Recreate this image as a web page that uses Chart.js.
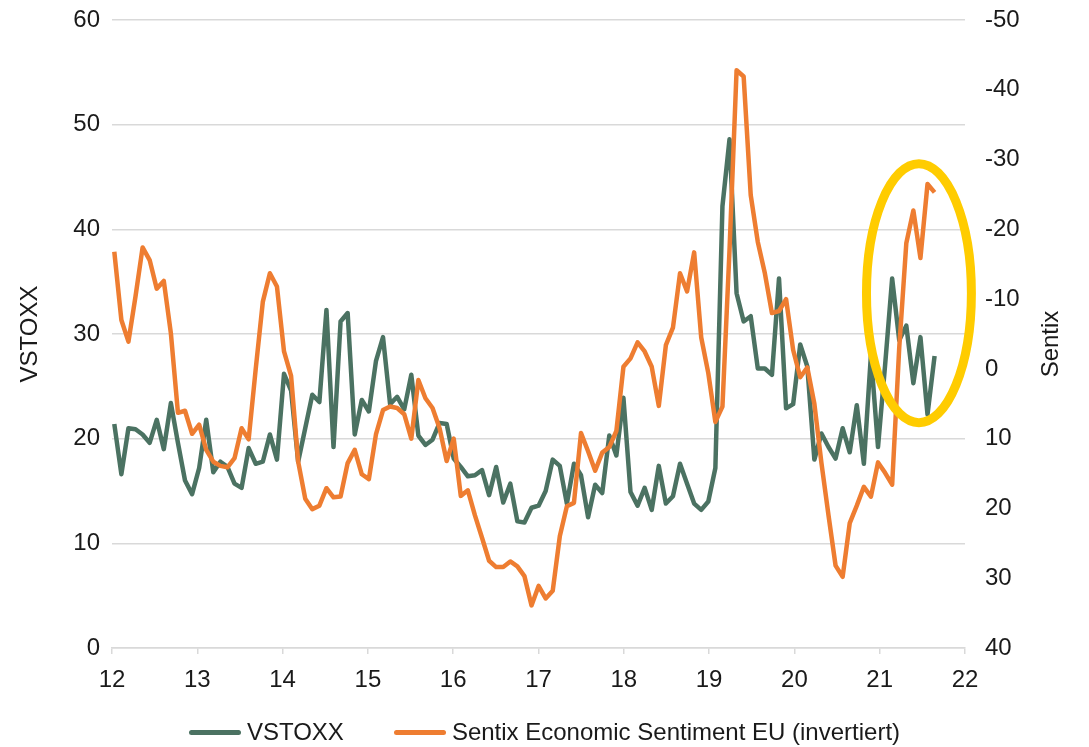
<!DOCTYPE html>
<html>
<head>
<meta charset="utf-8">
<script src="https://cdn.jsdelivr.net/npm/chart.js@4.4.1/dist/chart.umd.min.js"></script>
<style>
  html, body { margin: 0; padding: 0; background: #fff; }
  #wrap { position: relative; width: 1089px; height: 747px; }
  #legend {
    position: absolute; left: 0; right: 0; top: 718px;
    display: flex; justify-content: center; align-items: center;
    font: 24px "Liberation Sans", Arial, sans-serif; color: #1a1a1a;
  }
  .item { display: flex; align-items: center; margin: 0 25px; }
  .swatch { width: 52px; height: 5px; border-radius: 3px; margin-right: 6px; }
</style>
</head>
<body>
<div id="wrap">
  <canvas id="line-chart"></canvas>
  <div id="legend"></div>
</div>
<script>
// monthly points, first one just after the "12" tick
const X_START = 12.027;
const X_STEP = 0.0829;

const VSTOXX = [
  21.4, 16.6, 21.0, 20.9, 20.4, 19.6, 21.8, 19.0, 23.4, 19.6, 16.0, 14.7,
  17.2, 21.8, 16.8, 17.8, 17.3, 15.7, 15.3, 19.1, 17.6, 17.8, 20.4, 18.0,
  26.2, 24.6, 17.8, 21.0, 24.2, 23.5, 32.3, 19.2, 31.2, 32.0, 20.4, 23.7,
  22.6, 27.4, 29.7, 23.3, 24.0, 22.8, 26.1, 20.3, 19.4, 19.9, 21.5, 21.4,
  18.1, 17.3, 16.4, 16.5, 17.0, 14.6, 17.3, 13.9, 15.7, 12.1, 12.0, 13.4,
  13.6, 15.0, 18.0, 17.4, 13.8, 17.6, 16.5, 12.5, 15.6, 14.8, 20.3, 18.4,
  23.9, 14.9, 13.6, 15.3, 13.2, 17.4, 13.8, 14.5, 17.6, 15.7, 13.8, 13.2,
  14.0, 17.2, 42.2, 48.6, 33.9, 31.2, 31.7, 26.7, 26.7, 26.1, 35.3, 22.9,
  23.3, 29.0, 26.9, 18.0, 20.5, 19.2, 18.1, 21.0, 18.7, 23.2, 17.6, 28.0,
  19.2, 27.0, 35.3, 29.4, 30.8, 25.3, 29.7, 22.3, 27.9
];

const SENTIX = [
  -16.8, -7.0, -3.9, -10.4, -17.4, -15.6, -11.5, -12.6, -5.1, 6.3, 6.0, 9.3,
  8.0, 11.6, 13.3, 13.9, 14.1, 12.8, 8.5, 10.1, 0.0, -9.6, -13.7, -11.8,
  -2.5, 1.0, 13.3, 18.6, 20.1, 19.6, 17.1, 18.4, 18.3, 13.5, 11.6, 15.1,
  15.8, 9.4, 5.9, 5.4, 5.6, 6.5, 10.0, 1.6, 4.2, 5.6, 8.5, 13.2,
  10.0, 18.2, 17.4, 21.0, 24.2, 27.5, 28.4, 28.4, 27.6, 28.3, 29.7, 33.9,
  31.1, 32.9, 31.8, 24.0, 19.7, 19.2, 9.2, 11.8, 14.6, 12.0, 11.2, 8.9,
  -0.3, -1.5, -3.8, -2.5, -0.3, 5.3, -3.4, -5.9, -13.7, -11.1, -16.7, -4.5,
  0.6, 7.6, 5.4, -17.0, -42.8, -41.9, -24.9, -18.2, -13.7, -8.0, -8.3, -10.0,
  -2.7, 1.2, -0.2, 5.0, 13.5, 21.0, 28.2, 29.8, 22.1, 19.6, 16.9, 18.3,
  13.4, 14.9, 16.6, -3.0, -18.0, -22.7, -15.9, -26.5, -25.3
];

const X_TICKS = [12, 13, 14, 15, 16, 17, 18, 19, 20, 21, 22];
const SERIES_NAMES = ["VSTOXX", "Sentix Economic Sentiment EU (invertiert)"];
const COLORS = ["#4b7262", "#ee7d31"];

// highlight ring around the last months (in axis units)
const RING = { x: 21.46, y: 33.9, rx: 0.615, ry: 12.37 };

const FONT = { family: "'Liberation Sans', Arial, sans-serif", size: 24 };
const TEXT = "#1a1a1a";
const GRID = "#d9d9d9";

const toPoints = (arr) => arr.map((v, i) => ({ x: X_START + i * X_STEP, y: v }));

const ringPlugin = {
  id: "ring",
  afterDatasetsDraw(chart) {
    const { ctx, scales } = chart;
    const cx = scales.x.getPixelForValue(RING.x);
    const cy = scales.y.getPixelForValue(RING.y);
    const rx = scales.x.getPixelForValue(RING.x + RING.rx) - cx;
    const ry = cy - scales.y.getPixelForValue(RING.y + RING.ry);
    ctx.save();
    ctx.beginPath();
    ctx.ellipse(cx, cy, rx, ry, 0, 0, Math.PI * 2);
    ctx.strokeStyle = "#ffcc00";
    ctx.lineWidth = 9;
    ctx.stroke();
    ctx.restore();
  },
};

// right axis title reads bottom-to-top like the left one
const rightTitlePlugin = {
  id: "rightTitle",
  afterDraw(chart) {
    const { ctx, chartArea } = chart;
    ctx.save();
    ctx.translate(chartArea.right + 86, (chartArea.top + chartArea.bottom) / 2 + 10);
    ctx.rotate(-Math.PI / 2);
    ctx.font = `${FONT.size}px ${FONT.family}`;
    ctx.fillStyle = TEXT;
    ctx.textAlign = "center";
    ctx.textBaseline = "middle";
    ctx.fillText("Sentix", 0, 0);
    ctx.restore();
  },
};

// keep the plot box where the reference has it
const fitVertical = (width) => (scale) => {
  scale.width = width;
  scale.paddingTop = 0;
  scale.paddingBottom = 0;
};

new Chart(document.getElementById("line-chart"), {
  type: "line",
  data: {
    datasets: [
      {
        label: SERIES_NAMES[0],
        data: toPoints(VSTOXX),
        yAxisID: "y",
        borderColor: COLORS[0],
        backgroundColor: COLORS[0],
        borderWidth: 4.5,
        pointRadius: 0,
        borderJoinStyle: "round",
        fill: false,
        order: 2,
      },
      {
        label: SERIES_NAMES[1],
        data: toPoints(SENTIX),
        yAxisID: "y2",
        borderColor: COLORS[1],
        backgroundColor: COLORS[1],
        borderWidth: 4.5,
        pointRadius: 0,
        borderJoinStyle: "round",
        fill: false,
        order: 1,
      },
    ],
  },
  options: {
    responsive: true,
    maintainAspectRatio: false,
    animation: false,
    layout: { padding: { top: 20, left: 0, right: 0, bottom: 0 } },
    plugins: {
      legend: { display: false },
      tooltip: { enabled: false },
    },
    scales: {
      x: {
        type: "linear",
        min: 12,
        max: 22,
        afterBuildTicks: (scale) => {
          scale.ticks = X_TICKS.map((v) => ({ value: v }));
        },
        afterFit: (scale) => {
          scale.height = 99;
        },
        ticks: { color: TEXT, font: FONT, padding: 12, maxRotation: 0 },
        grid: { drawOnChartArea: false, drawTicks: true, tickLength: 6, color: GRID, lineWidth: 1.5 },
        border: { color: GRID, width: 1.5 },
      },
      y: {
        position: "left",
        min: 0,
        max: 60,
        ticks: { stepSize: 10, color: TEXT, font: FONT, padding: 12 },
        grid: { color: GRID, lineWidth: 1.5, drawTicks: false },
        border: { display: false },
        title: { display: true, text: "VSTOXX", color: TEXT, font: FONT, padding: { top: 16 } },
        afterFit: fitVertical(112),
      },
      y2: {
        position: "right",
        reverse: true,
        min: -50,
        max: 40,
        ticks: { stepSize: 10, color: TEXT, font: FONT, padding: 20 },
        grid: { drawOnChartArea: false, drawTicks: false },
        border: { display: false },
        afterFit: fitVertical(124),
      },
    },
  },
  plugins: [ringPlugin, rightTitlePlugin],
});

const legend = document.getElementById("legend");
SERIES_NAMES.forEach((name, i) => {
  const item = document.createElement("div");
  item.className = "item";
  const sw = document.createElement("span");
  sw.className = "swatch";
  sw.style.background = COLORS[i];
  const label = document.createElement("span");
  label.textContent = name;
  item.appendChild(sw);
  item.appendChild(label);
  legend.appendChild(item);
});
</script>
</body>
</html>
